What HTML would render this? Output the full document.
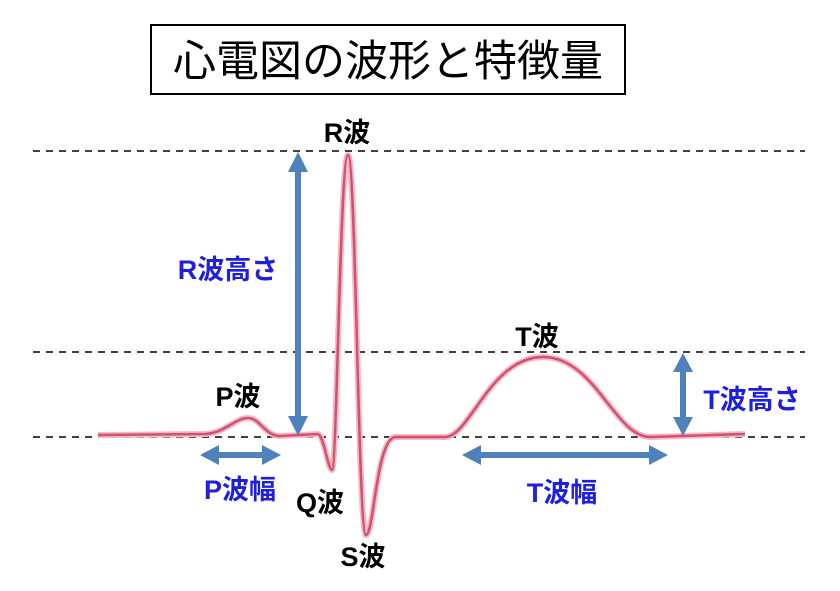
<!DOCTYPE html>
<html><head><meta charset="utf-8"><style>
body{margin:0;background:#fff;}
.t{font-family:"Liberation Sans","Noto Sans CJK JP",sans-serif;}
</style></head><body>
<svg width="840" height="586" viewBox="0 0 840 586" xmlns="http://www.w3.org/2000/svg">
<rect x="151" y="25" width="474" height="69" fill="#fff" stroke="#000" stroke-width="2"/>
<text class="t" x="388" y="76" font-size="43" text-anchor="middle" fill="#000">心電図の波形と特徴量</text>
<g stroke="#000" stroke-width="1.6" stroke-dasharray="7,6">
<line x1="33" y1="151" x2="805" y2="151"/>
<line x1="33" y1="352" x2="805" y2="352"/>
<line x1="33" y1="437" x2="805" y2="437"/>
</g>
<path d="M98 435 L205 434 C225 433 235 418 248 418 C260 418 265 436 280 436 L318 434 C324 436 328 470 332 470 C337 470 340 155 348 155 C356 155 358 535 366 535 C374 535 376 440 395 437 L445 437 C470 437 490 357 543 357 C595 357 615 437 650 437 L745 434"
 fill="none" stroke="#f4b8c6" stroke-width="6" stroke-linejoin="round"/>
<path d="M98 435 L205 434 C225 433 235 418 248 418 C260 418 265 436 280 436 L318 434 C324 436 328 470 332 470 C337 470 340 155 348 155 C356 155 358 535 366 535 C374 535 376 440 395 437 L445 437 C470 437 490 357 543 357 C595 357 615 437 650 437 L745 434"
 fill="none" stroke="#d2516f" stroke-width="2.5" stroke-linejoin="round"/>
<g fill="#4f81bd" stroke="#4f81bd">
<line x1="298" y1="168" x2="298" y2="420" stroke-width="6"/>
<polygon points="298,152 288,172 308,172" stroke="none"/>
<polygon points="298,436 288,416 308,416" stroke="none"/>
<line x1="683" y1="368" x2="683" y2="421" stroke-width="6"/>
<polygon points="683,353 673,372 693,372" stroke="none"/>
<polygon points="683,436 673,417 693,417" stroke="none"/>
<line x1="215" y1="455" x2="265" y2="455" stroke-width="6"/>
<polygon points="200,455 219,445 219,465" stroke="none"/>
<polygon points="281,455 262,445 262,465" stroke="none"/>
<line x1="477" y1="455" x2="653" y2="455" stroke-width="6"/>
<polygon points="462,455 481,445 481,465" stroke="none"/>
<polygon points="668,455 649,445 649,465" stroke="none"/>
</g>
<g class="t" font-size="27" font-weight="bold" fill="#000" text-anchor="middle">
<text x="347" y="142">R波</text>
<text x="238" y="406">P波</text>
<text x="537" y="346">T波</text>
<text x="320" y="512">Q波</text>
<text x="363" y="566">S波</text>
</g>
<g class="t" font-size="27" font-weight="bold" fill="#1f1fe0" text-anchor="middle">
<text x="228" y="279">R波高さ</text>
<text x="752" y="409">T波高さ</text>
<text x="240" y="499">P波幅</text>
<text x="562" y="502">T波幅</text>
</g>
</svg>
</body></html>
